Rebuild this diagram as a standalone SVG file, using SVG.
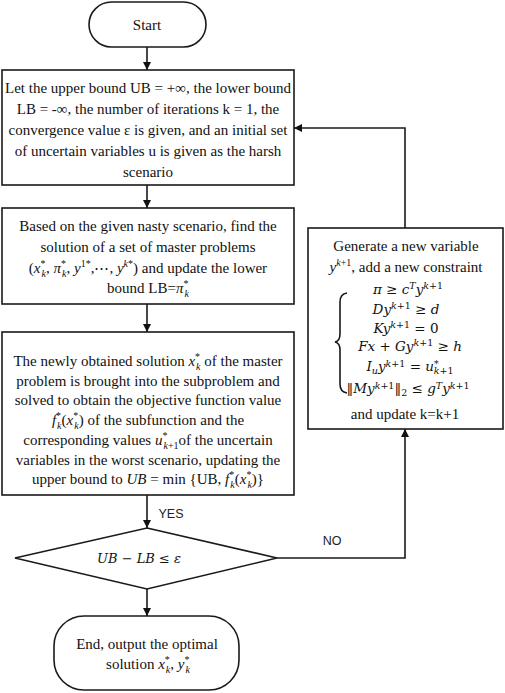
<svg xmlns="http://www.w3.org/2000/svg" width="505" height="693" viewBox="0 0 505 693">
<style>
.b{fill:#fff;stroke:#1a1a1a;stroke-width:1.6}
.t{font-family:"Liberation Serif","Times New Roman",serif;font-size:15px;fill:#111;text-anchor:middle}
.q{font-family:"DejaVu Serif","Liberation Serif",serif;font-size:13.5px;fill:#111;text-anchor:middle}
.m{font-style:italic}
.s{font-size:10px}
.q .s{font-size:9.5px}
.l{font-family:"Liberation Sans",Arial,sans-serif;font-size:12.5px;fill:#222;text-anchor:middle}
.c{fill:none;stroke:#1a1a1a;stroke-width:1.6}
</style>
<defs>
<marker id="ah" viewBox="0 0 10 10" refX="10" refY="5" markerWidth="8" markerHeight="8" markerUnits="userSpaceOnUse" orient="auto">
<path d="M0,0 L10,5 L0,10 z" fill="#111"/>
</marker>
</defs>
<g id="connectors">
<path class="c" d="M147,47 V70" marker-end="url(#ah)"/>
<path class="c" d="M147,185 V208" marker-end="url(#ah)"/>
<path class="c" d="M147,304 V332" marker-end="url(#ah)"/>
<path class="c" d="M147,495 V528" marker-end="url(#ah)"/>
<path class="c" d="M147,589 V616" marker-end="url(#ah)"/>
<path class="c" d="M277,558 H405 V429" marker-end="url(#ah)"/>
<path class="c" d="M405,228 V128 H294" marker-end="url(#ah)"/>
<text class="l" x="171" y="518">YES</text>
<text class="l" x="332" y="545">NO</text>
</g>
<g id="start">
<rect class="b" x="89" y="2" width="117" height="45" rx="22.5"/>
<text class="t" x="147" y="30">Start</text>
</g>
<g id="init">
<rect class="b" x="2" y="70" width="292" height="115"/>
<text class="t" x="148" y="92.5">Let the upper bound UB = +∞, the lower bound</text>
<text class="t" x="148" y="113.5">LB = -∞, the number of iterations k = 1, the</text>
<text class="t" x="148" y="134.5">convergence value ε is given, and an initial set</text>
<text class="t" x="148" y="155.5">of uncertain variables u is given as the harsh</text>
<text class="t" x="148" y="177">scenario</text>
</g>
<g id="master">
<rect class="b" x="2" y="208" width="292" height="96"/>
<text class="t" x="148" y="231">Based on the given nasty scenario, find the</text>
<text class="t" x="148" y="252">solution of a set of master problems</text>
<text class="t" x="148" y="273">(<tspan class="m">x</tspan><tspan class="s" dy="-6">*</tspan><tspan class="s m" dx="-4" dy="10">k</tspan><tspan dy="-4">, </tspan><tspan class="m">π</tspan><tspan class="s" dy="-6">*</tspan><tspan class="s m" dx="-4" dy="10">k</tspan><tspan dy="-4">, </tspan><tspan class="m">y</tspan><tspan class="s" dy="-6">1*</tspan><tspan dy="6">,⋯, </tspan><tspan class="m">y</tspan><tspan class="s" dy="-6"><tspan class="m">k</tspan>*</tspan><tspan dy="6">)  and update the lower</tspan></text>
<text class="t" x="148" y="293">bound LB=<tspan class="m">π</tspan><tspan class="s" dy="-6">*</tspan><tspan class="s m" dx="-4" dy="10">k</tspan></text>
</g>
<g id="sub">
<rect class="b" x="2" y="332" width="292" height="163"/>
<text class="t" x="148" y="366">The newly obtained solution  <tspan class="m">x</tspan><tspan class="s" dy="-6">*</tspan><tspan class="s m" dx="-4" dy="10">k</tspan><tspan dy="-4">  of the master</tspan></text>
<text class="t" x="148" y="385.7">problem is brought into the subproblem and</text>
<text class="t" x="148" y="405.4">solved to obtain the objective function value</text>
<text class="t" x="148" y="425"><tspan class="m">f</tspan><tspan class="s" dy="-6">*</tspan><tspan class="s m" dx="-4" dy="10">k</tspan><tspan dy="-4">(</tspan><tspan class="m">x</tspan><tspan class="s" dy="-6">*</tspan><tspan class="s m" dx="-4" dy="10">k</tspan><tspan dy="-4">)  of the subfunction and the</tspan></text>
<text class="t" x="148" y="444.8">corresponding values  <tspan class="m">u</tspan><tspan class="s" dy="-6">*</tspan><tspan class="s" dx="-4" dy="10"><tspan class="m">k</tspan>+1</tspan><tspan dy="-4">of the uncertain</tspan></text>
<text class="t" x="148" y="464.5">variables in the worst scenario, updating the</text>
<text class="t" x="148" y="484">upper bound to  <tspan class="m">UB</tspan> = min {UB, <tspan class="m">f</tspan><tspan class="s" dy="-6">*</tspan><tspan class="s m" dx="-4" dy="10">k</tspan><tspan dy="-4">(</tspan><tspan class="m">x</tspan><tspan class="s" dy="-6">*</tspan><tspan class="s m" dx="-4" dy="10">k</tspan><tspan dy="-4">)}</tspan></text>
</g>
<g id="generate">
<rect class="b" x="308" y="228" width="195" height="201"/>
<text class="t" x="406" y="251">Generate a new variable</text>
<text class="t" x="406" y="272"><tspan class="m">y</tspan><tspan class="s" dy="-6"><tspan class="m">k</tspan>+1</tspan><tspan dy="6">, add a new constraint</tspan></text>
<path class="c" stroke-width="1.3" d="M347,293 Q340,294 340,302 L340,334 Q340,341 335,342 Q340,343 340,350 L340,384 Q340,392 347,393"/>
<text class="q" x="408" y="294"><tspan class="m">π</tspan> ≥ <tspan class="m">c</tspan><tspan class="s m" dy="-5">T</tspan><tspan class="m" dy="5">y</tspan><tspan class="s" dy="-5"><tspan class="m">k</tspan>+1</tspan></text>
<text class="q" x="406" y="314"><tspan class="m">Dy</tspan><tspan class="s" dy="-5"><tspan class="m">k</tspan>+1</tspan><tspan dy="5"> ≥ </tspan><tspan class="m">d</tspan></text>
<text class="q" x="406" y="333"><tspan class="m">Ky</tspan><tspan class="s" dy="-5"><tspan class="m">k</tspan>+1</tspan><tspan dy="5"> = 0</tspan></text>
<text class="q" x="410" y="351"><tspan class="m">Fx</tspan> + <tspan class="m">Gy</tspan><tspan class="s" dy="-5"><tspan class="m">k</tspan>+1</tspan><tspan dy="5"> ≥ </tspan><tspan class="m">h</tspan></text>
<text class="q" x="410" y="371"><tspan class="m">I</tspan><tspan class="s m" dy="3">u</tspan><tspan class="m" dy="-3">y</tspan><tspan class="s" dy="-4"><tspan class="m">k</tspan>+1</tspan><tspan dy="4"> = </tspan><tspan class="m">u</tspan><tspan class="s" dy="-4">*</tspan><tspan class="s" dx="-5" dy="7"><tspan class="m">k</tspan>+1</tspan></text>
<text class="q" x="408" y="393">‖<tspan class="m">My</tspan><tspan class="s" dy="-4"><tspan class="m">k</tspan>+1</tspan><tspan dy="4">‖</tspan><tspan class="s" dy="3">2</tspan><tspan dy="-3"> ≤ </tspan><tspan class="m">g</tspan><tspan class="s m" dy="-4">T</tspan><tspan class="m" dy="4">y</tspan><tspan class="s" dy="-4"><tspan class="m">k</tspan>+1</tspan></text>
<text class="t" x="405" y="419">and update k=k+1</text>
</g>
<g id="decision">
<path class="b" d="M147,528 L277,558 L147,589 L15,558 Z"/>
<text class="q" x="139" y="563" style="font-size:13px"><tspan class="m">UB</tspan> − <tspan class="m">LB</tspan> ≤ <tspan class="m">ε</tspan></text>
</g>
<g id="end">
<rect class="b" x="54" y="616" width="185" height="74" rx="30"/>
<text class="t" x="147" y="649">End, output the optimal</text>
<text class="t" x="148" y="669">solution  <tspan class="m">x</tspan><tspan class="s" dy="-6">*</tspan><tspan class="s m" dx="-4" dy="10">k</tspan><tspan dy="-4">, </tspan><tspan class="m">y</tspan><tspan class="s" dy="-6">*</tspan><tspan class="s m" dx="-4" dy="10">k</tspan></text>
</g>
</svg>
